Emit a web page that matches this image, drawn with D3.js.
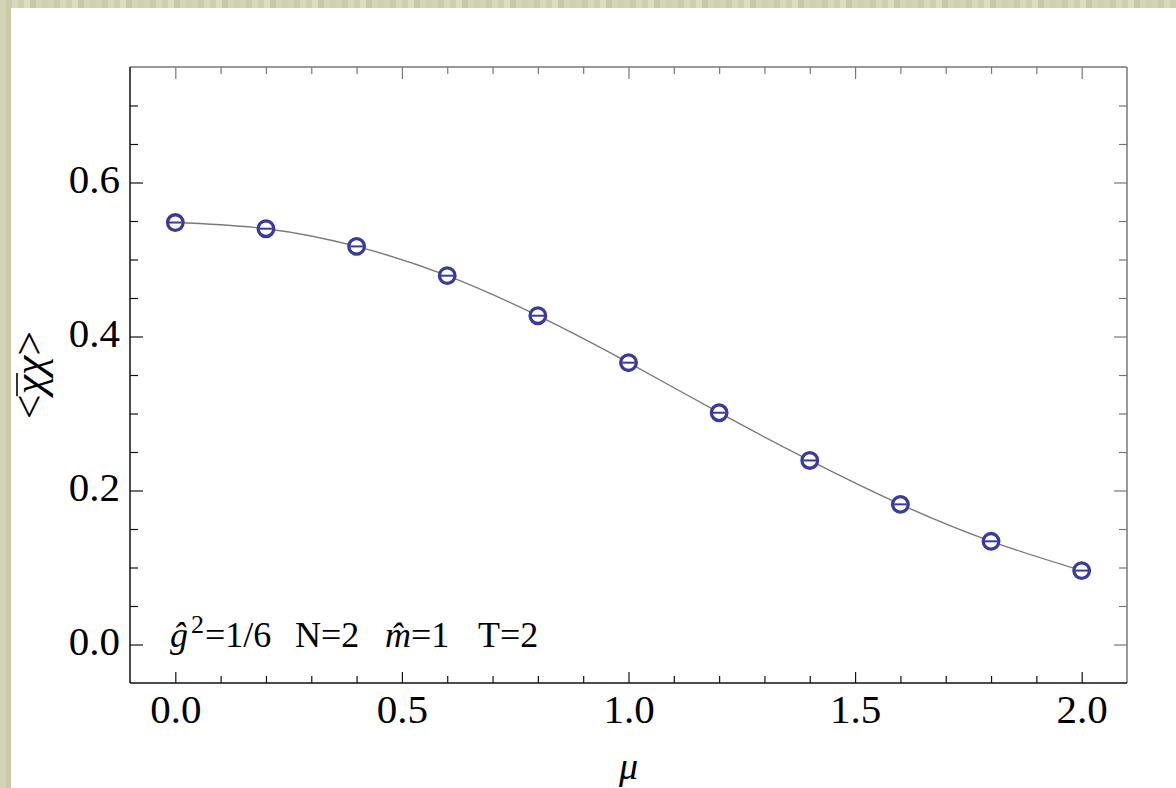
<!DOCTYPE html>
<html>
<head>
<meta charset="utf-8">
<script src="https://cdn.jsdelivr.net/npm/d3@7"></script>
<style>
  html, body { margin: 0; padding: 0; background: #fff; }
  svg { display: block; }
  text { font-family: "Liberation Serif", "DejaVu Serif", serif; }
</style>
</head>
<body>
<div id="viz"></div>
<script>
const W = 1176;
const H = 788;

// data
const mu = [0.0, 0.2, 0.4, 0.6, 0.8, 1.0, 1.2, 1.4, 1.6, 1.8, 2.0];
const chi = [0.548, 0.540, 0.517, 0.479, 0.427, 0.366, 0.301, 0.239, 0.182, 0.134, 0.096];

const xMajor = [0.0, 0.5, 1.0, 1.5, 2.0];
const xMinor = [0.1, 0.2, 0.3, 0.4, 0.6, 0.7, 0.8, 0.9, 1.1, 1.2, 1.3, 1.4, 1.6, 1.7, 1.8, 1.9];
const yMajor = [0.0, 0.2, 0.4, 0.6];
const yMinor = [0.05, 0.1, 0.15, 0.25, 0.3, 0.35, 0.45, 0.5, 0.55, 0.65, 0.7];

const frame = { left: 130, top: 67, right: 1127, bottom: 683 };

const svg = d3.select('#viz')
    .append('svg')
    .attr('width', W)
    .attr('height', H);

// beige striped border
const stripes = ['#d3d3b5', '#cacaa9', '#d8d8bd', '#cfcfb0', '#dcdcc2', '#c8c8a8', '#d5d5b8', '#d0d0b2'];
const pat = svg.append('defs').append('pattern')
    .attr('id', 'beige')
    .attr('patternUnits', 'userSpaceOnUse')
    .attr('width', 48)
    .attr('height', 48);
stripes.forEach((c, i) => {
  pat.append('rect').attr('x', i * 6).attr('y', 0).attr('width', 6).attr('height', 48).attr('fill', c);
});

svg.append('rect').attr('width', W).attr('height', H).attr('fill', 'url(#beige)');
svg.append('rect').attr('x', 11).attr('y', 8).attr('width', W - 11).attr('height', H - 8).attr('fill', '#fff');

const x = d3.scaleLinear().domain([-0.1, 2.1]).range([frame.left, frame.right]);
const y = d3.scaleLinear().domain([-0.05, 0.75]).range([frame.bottom, frame.top]);

function styleAxis(g, color) {
  g.select('.domain').remove();
  g.selectAll('.tick line').attr('stroke', color).attr('stroke-width', 1.2);
  g.selectAll('text').attr('fill', '#000').attr('font-family', '"Liberation Serif", serif').attr('font-size', 41);
}

// bottom
const gb = svg.append('g').attr('transform', `translate(0,${frame.bottom})`);
gb.append('g').call(d3.axisBottom(x).tickValues(xMinor).tickSize(-7).tickFormat('')).call(styleAxis, '#111');
const gbMaj = gb.append('g').call(d3.axisBottom(x).tickValues(xMajor).tickSize(-11).tickFormat(d3.format('.1f')));
gbMaj.call(styleAxis, '#111');
gbMaj.selectAll('text').attr('y', 40).attr('dy', null);

// top
const gt = svg.append('g').attr('transform', `translate(0,${frame.top})`);
gt.append('g').call(d3.axisTop(x).tickValues(xMinor).tickSize(-7).tickFormat('')).call(styleAxis, '#777');
gt.append('g').call(d3.axisTop(x).tickValues(xMajor).tickSize(-12).tickFormat('')).call(styleAxis, '#777');

// left
const gl = svg.append('g').attr('transform', `translate(${frame.left},0)`);
gl.append('g').call(d3.axisLeft(y).tickValues(yMinor).tickSize(-8).tickFormat('')).call(styleAxis, '#111');
const glMaj = gl.append('g').call(d3.axisLeft(y).tickValues(yMajor).tickSize(-13).tickFormat(d3.format('.1f')));
glMaj.call(styleAxis, '#111');
glMaj.selectAll('text').attr('x', -10).attr('dy', 10);

// right
const gr = svg.append('g').attr('transform', `translate(${frame.right},0)`);
gr.append('g').call(d3.axisRight(y).tickValues(yMinor).tickSize(-8).tickFormat('')).call(styleAxis, '#777');
gr.append('g').call(d3.axisRight(y).tickValues(yMajor).tickSize(-13).tickFormat('')).call(styleAxis, '#777');

// frame
svg.append('line').attr('x1', frame.left).attr('x2', frame.right).attr('y1', frame.top).attr('y2', frame.top)
    .attr('stroke', '#777').attr('stroke-width', 1.5);
svg.append('line').attr('x1', frame.right).attr('x2', frame.right).attr('y1', frame.top).attr('y2', frame.bottom)
    .attr('stroke', '#777').attr('stroke-width', 1.5);
svg.append('line').attr('x1', frame.left).attr('x2', frame.right).attr('y1', frame.bottom).attr('y2', frame.bottom)
    .attr('stroke', '#111').attr('stroke-width', 1.5);
svg.append('line').attr('x1', frame.left).attr('x2', frame.left).attr('y1', frame.top).attr('y2', frame.bottom)
    .attr('stroke', '#111').attr('stroke-width', 1.5);

// curve
const pts = mu.map((m, i) => [m, chi[i]]);
const line = d3.line()
    .x(d => x(d[0]))
    .y(d => y(d[1]))
    .curve(d3.curveNatural);

svg.append('path')
    .datum(pts)
    .attr('d', line)
    .attr('fill', 'none')
    .attr('stroke', '#7a7a7a')
    .attr('stroke-width', 1.4);

// markers
const blue = '#3a3a9c';
const r = 7.8;
const mk = svg.append('g').selectAll('g').data(pts).join('g')
    .attr('transform', d => `translate(${x(d[0])},${y(d[1])})`);
mk.append('circle').attr('r', r).attr('fill', '#fff').attr('stroke', blue).attr('stroke-width', 3.3);
mk.append('line').attr('x1', -r + 1.5).attr('x2', r - 1.5).attr('y1', 0).attr('y2', 0)
    .attr('stroke', blue).attr('stroke-width', 2);

// annotation
const note = svg.append('text')
    .attr('y', 647)
    .attr('font-size', 36)
    .attr('fill', '#000');
note.append('tspan').attr('x', 170).attr('font-style', 'italic').text('\u011D');
note.append('tspan').attr('x', 191).attr('font-size', 26).attr('y', 633).text('2');
note.append('tspan').attr('x', 205).attr('y', 647).text('=1/6');
note.append('tspan').attr('x', 295).text('N=2');
note.append('tspan').attr('x', 385).attr('font-style', 'italic').text('m\u0302');
note.append('tspan').text('=1');
note.append('tspan').attr('x', 478).text('T=2');

// axis titles
svg.append('text')
    .attr('x', (frame.left + frame.right) / 2)
    .attr('y', 779)
    .attr('text-anchor', 'middle')
    .attr('font-size', 38)
    .attr('font-style', 'italic')
    .text('\u03BC');

const ytg = svg.append('g').attr('transform', 'translate(44,375) rotate(-90)');
const yt = ytg.append('text')
    .attr('text-anchor', 'middle')
    .attr('font-size', 44);
yt.append('tspan').text('<');
yt.append('tspan').attr('font-style', 'italic').text('\u03C7\u03C7');
yt.append('tspan').text('>');
// overbar on the first chi
const n = yt.node();
const s = n.getStartPositionOfChar(1).x;
const e = n.getEndPositionOfChar(1).x;
ytg.append('line')
    .attr('x1', s - 2).attr('x2', e + 2)
    .attr('y1', -27).attr('y2', -27)
    .attr('stroke', '#000').attr('stroke-width', 1.6);
</script>
</body>
</html>
